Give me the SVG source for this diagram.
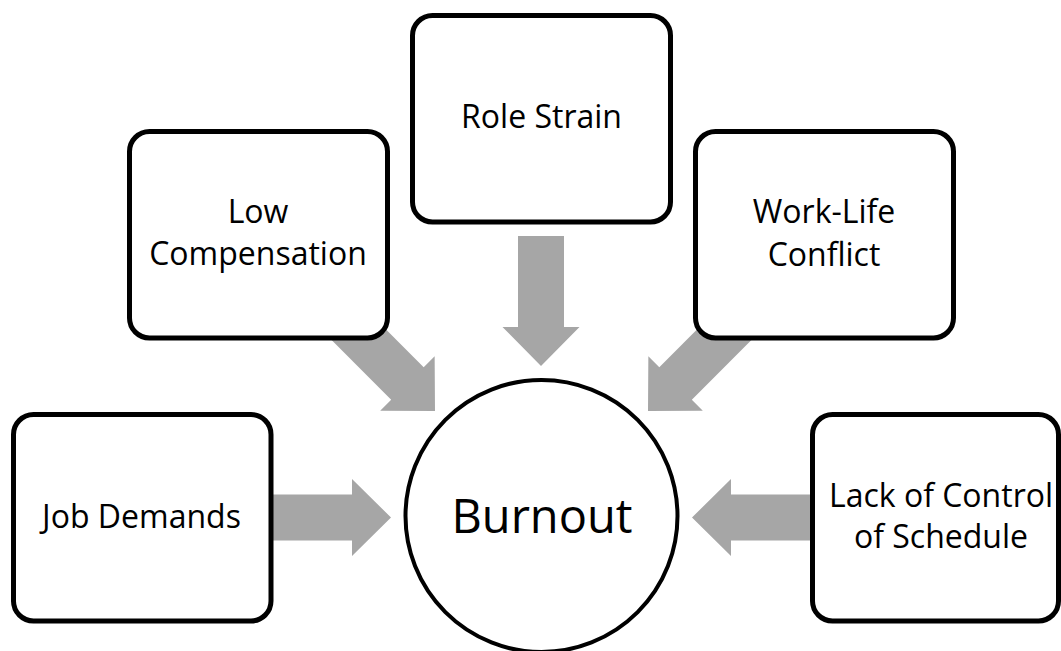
<svg xmlns="http://www.w3.org/2000/svg" width="1061" height="651" viewBox="0 0 1061 651">
  <style>
    .box { fill: #ffffff; stroke: #000000; stroke-width: 5; }
    .circ { fill: #ffffff; stroke: #000000; stroke-width: 4; }
    .arrow { fill: #A6A6A6; stroke: none; }
    .lbl { font-family: "Open Sans", "Noto Sans", sans-serif; font-size: 32px; fill: #000000; text-anchor: middle; }
    .big { font-family: "Open Sans", "Noto Sans", sans-serif; font-size: 47px; fill: #000000; text-anchor: middle; }
  </style>
  <defs>
    <path id="arr" d="M -130 -23 H -39 V -38.5 L 0 0 L -39 38.5 V 23 H -130 Z"/>
  </defs>
  <rect width="1061" height="651" fill="#ffffff"/>
  <g id="connectors">
    <use href="#arr" class="arrow" transform="translate(391,517.5)"/>
    <use href="#arr" class="arrow" transform="translate(692,517.5) rotate(180)"/>
    <use href="#arr" class="arrow" transform="translate(541,366) rotate(90)"/>
    <use href="#arr" class="arrow" transform="translate(435,411) rotate(45)"/>
    <use href="#arr" class="arrow" transform="translate(648,411) rotate(135)"/>
  </g>
  <g id="node-burnout">
    <circle class="circ" cx="541.5" cy="516" r="136"/>
    <text class="big" x="542" y="533">Burnout</text>
  </g>
  <g id="node-job-demands">
    <rect class="box" x="13.5" y="414.5" width="257.5" height="206.5" rx="20"/>
    <text class="lbl" x="141.5" y="528">Job Demands</text>
  </g>
  <g id="node-low-compensation">
    <rect class="box" x="129.5" y="131.5" width="258" height="206.5" rx="20"/>
    <text class="lbl" x="258" y="223">Low</text>
    <text class="lbl" x="258" y="265">Compensation</text>
  </g>
  <g id="node-role-strain">
    <rect class="box" x="412.5" y="15.5" width="258" height="206.5" rx="20"/>
    <text class="lbl" x="541.5" y="128">Role Strain</text>
  </g>
  <g id="node-work-life">
    <rect class="box" x="695.5" y="131.5" width="258" height="206.5" rx="20"/>
    <text class="lbl" x="824" y="223">Work-Life</text>
    <text class="lbl" x="824" y="266">Conflict</text>
  </g>
  <g id="node-lack-of-control">
    <rect class="box" x="812.5" y="414.5" width="246" height="206.5" rx="20"/>
    <text class="lbl" x="941" y="507">Lack of Control</text>
    <text class="lbl" x="941" y="548">of Schedule</text>
  </g>
</svg>
